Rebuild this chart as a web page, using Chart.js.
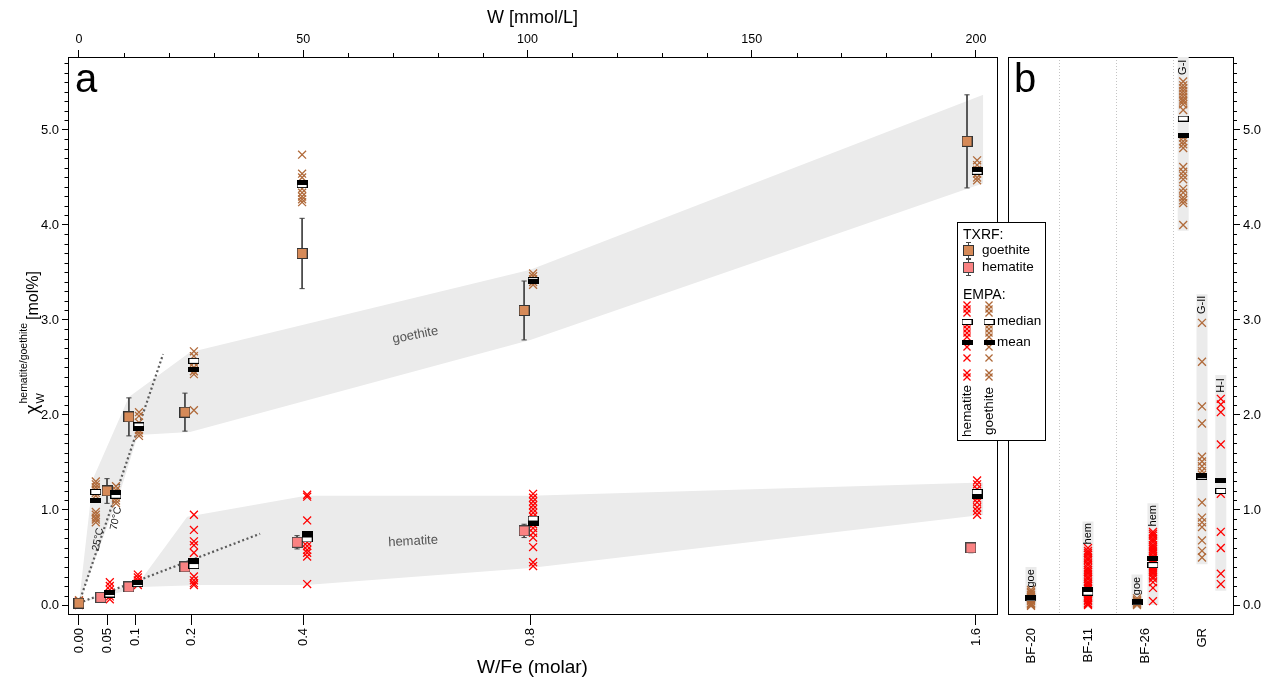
<!DOCTYPE html>
<html>
<head>
<meta charset="utf-8">
<script src="https://cdn.jsdelivr.net/npm/chart.js@4.4.1/dist/chart.umd.min.js"></script>
<style>
  html, body { margin: 0; padding: 0; background: #fff; }
  #wrap { position: relative; width: 1282px; height: 685px; }
  #wrap canvas { position: absolute; left: 0; top: 0; }
</style>
</head>
<body>
<div id="wrap">
  <canvas id="panelA" width="1282" height="685"></canvas>
  <canvas id="panelB" width="1282" height="685"></canvas>
</div>
<script>
const FONT = '"Liberation Sans", Arial, Helvetica, sans-serif';
Chart.defaults.font.family = FONT;
Chart.defaults.color = '#000';

const GOE = '#b06a3a';
const HEM = '#ff0000';
const BAND = '#ebebeb';

// ---------- axes ----------
const W_PER_WFE = 125;                       // W [mmol/L] per unit W/Fe
const wfeTickPos = [0, 0.05, 0.1, 0.2, 0.4, 0.806, 1.6];
const wfeTickLabels = ['0.00', '0.05', '0.1', '0.2', '0.4', '0.8', '1.6'];
const wTicks = [0, 50, 100, 150, 200];
const yTicks = [0, 1, 2, 3, 4, 5];
const yMinorStep = 0.1;
const wMinorStep = 10;

// ---------- panel a : TXRF (mean +- error) ----------
const txrfGoeX   = [0, 0.050, 0.089, 0.189, 0.398, 0.794, 1.584];
const txrfGoeVal = [0.02, 1.20, 1.98, 2.03, 3.70, 3.10, 4.88];
const txrfGoeErr = [0.00, 0.13, 0.20, 0.20, 0.37, 0.31, 0.49];
const txrfHemX   = [0, 0.039, 0.089, 0.189, 0.389, 0.794, 1.591];
const txrfHemVal = [0.02, 0.08, 0.19, 0.40, 0.66, 0.78, 0.60];
const txrfHemErr = [0.00, 0.02, 0.02, 0.03, 0.07, 0.07, 0.05];

// ---------- panel a : EMPA single analyses ----------
const empaGoeX = [0, 0.030, 0.066, 0.107, 0.205, 0.398, 0.810, 1.602];
const empaGoe = [
  [0.05, 0.03, 0.01],
  [1.30, 1.27, 1.24, 1.21, 1.18, 1.15, 0.98, 0.95, 0.92, 0.90, 0.87],
  [1.25, 1.21, 1.17, 1.13, 1.10, 1.07],
  [2.03, 1.99, 1.92, 1.84, 1.81, 1.78],
  [2.67, 2.62, 2.55, 2.50, 2.46, 2.43, 2.05],
  [4.74, 4.54, 4.50, 4.38, 4.34, 4.30, 4.27, 4.24],
  [3.49, 3.46, 3.43, 3.40, 3.37],
  [4.68, 4.63, 4.58, 4.54, 4.50, 4.47]
];
const empaGoeMedian = [null, 1.19, 1.15, 1.89, 2.57, 4.42, 3.42, 4.56];
const empaGoeMean   = [null, 1.10, 1.18, 1.86, 2.48, 4.45, 3.40, 4.58];

const empaHemX = [0, 0.055, 0.105, 0.205, 0.407, 0.810, 1.602];
const empaHem = [
  [0.04, 0.02, 0.00],
  [0.24, 0.20, 0.16, 0.12, 0.09, 0.06],
  [0.32, 0.29, 0.26, 0.23, 0.21],
  [0.95, 0.79, 0.67, 0.63, 0.55, 0.30, 0.26, 0.23, 0.21],
  [1.16, 1.14, 0.89, 0.66, 0.62, 0.58, 0.55, 0.51, 0.22],
  [1.17, 1.13, 1.09, 1.05, 1.01, 0.97, 0.93, 0.89, 0.85, 0.81, 0.76, 0.71, 0.61, 0.45, 0.41],
  [1.31, 1.27, 1.22, 1.17, 1.12, 1.08, 1.03, 0.99, 0.95]
];
const empaHemMedian = [null, 0.11, 0.22, 0.41, 0.69, 0.91, 1.19];
const empaHemMean   = [null, 0.13, 0.24, 0.47, 0.75, 0.86, 1.14];

// ---------- panel a : grey bands and trend lines ----------
const goeBandUpper = [[0, 0.02], [0.025, 1.33], [0.089, 2.19], [0.198, 2.66], [0.805, 3.53], [1.613, 5.37]];
const goeBandLower = [[0, 0.02], [0.075, 1.22], [0.105, 1.79], [0.198, 1.82], [0.805, 2.79], [1.613, 4.44]];
const hemBandUpper = [[0, 0.02], [0.110, 0.26], [0.193, 0.93], [0.405, 1.15], [0.805, 1.15], [1.613, 1.29]];
const hemBandLower = [[0, 0.02], [0.109, 0.19], [0.220, 0.21], [0.405, 0.21], [0.805, 0.39], [1.613, 0.95]];
const trendSteep   = [[0, 0.02], [0.150, 2.64]];
const trendShallow = [[0, 0.02], [0.323, 0.75]];

const notesA = [
  { text: '25°C', x: 0.034, y: 0.69, rot: -78, size: 10.5, color: '#222' },
  { text: '70°C', x: 0.066, y: 0.91, rot: -78, size: 10.5, color: '#222' },
  { text: 'goethite', x: 0.600, y: 2.84, rot: -11, size: 13, color: '#555' },
  { text: 'hematite', x: 0.596, y: 0.67, rot: -3, size: 13, color: '#555' }
];

// ---------- panel b ----------
const bCategories = ['BF-20', 'BF-11', 'BF-26', 'GR'];
const bColX     = [0, 1, 1.86, 2.14, 2.67, 3.0, 3.33];
const bColLabel = ['goe', 'hem', 'goe', 'hem', 'G-I', 'G-II', 'H-I'];
const bColPhase = ['goe', 'hem', 'goe', 'hem', 'goe', 'goe', 'hem'];
const bColVals = [
  [0.16, 0.14, 0.13, 0.11, 0.10, 0.08, 0.07, 0.05, 0.04, 0.02, 0.01, 0.00, -0.01],
  [0.60, 0.57, 0.55, 0.53, 0.50, 0.48, 0.47, 0.44, 0.42, 0.39, 0.37, 0.35, 0.33, 0.30, 0.28, 0.27,
   0.24, 0.22, 0.20, 0.18, 0.17, 0.15, 0.13, 0.12, 0.10, 0.08, 0.07, 0.05, 0.04, 0.02, 0.01, 0.00],
  [0.07, 0.05, 0.04, 0.03, 0.02, 0.01, 0.00],
  [0.77, 0.75, 0.73, 0.70, 0.68, 0.66, 0.63, 0.61, 0.59, 0.57, 0.55, 0.52, 0.50, 0.48, 0.46, 0.44,
   0.41, 0.39, 0.37, 0.35, 0.33, 0.30, 0.28, 0.24, 0.18, 0.04],
  [5.51, 5.47, 5.44, 5.41, 5.38, 5.35, 5.32, 5.30, 5.27, 5.21, 4.92, 4.88, 4.85, 4.81,
   4.61, 4.56, 4.52, 4.48, 4.38, 4.34, 4.29, 4.26, 4.23, 4.00],
  [2.97, 2.56, 2.09, 1.91, 1.56, 1.51, 1.46, 1.41, 1.37, 1.08, 0.92, 0.87, 0.82, 0.68, 0.57, 0.50],
  [2.17, 2.11, 2.03, 1.69, 1.17, 0.77, 0.60, 0.33, 0.22]
];
const bColMedian  = [0.07, 0.13, 0.03, 0.42, 5.12, 1.35, 1.20];
const bColMean    = [0.08, 0.16, 0.04, 0.49, 4.94, 1.36, 1.31];
const bColBarLow  = [-0.03, -0.03, -0.03, 0.00, 3.94, 0.43, 0.15];
const bColBarHigh = [0.40, 0.88, 0.32, 1.07, 5.77, 3.27, 2.42];
const bColLabelAt = [0.28, 0.75, 0.20, 0.94, 5.66, 3.16, 2.31];

// ---------- scale ranges ----------
const XA_MIN = -0.0196, XA_MAX = 1.6375;
const XB_MIN = -0.4035, XB_MAX = 3.544;
const Y_MIN = -0.0947, Y_MAX = 5.768;

// ---------- marker images ----------
function mark(w, h, fill, stroke) {
  const c = document.createElement('canvas');
  c.width = w; c.height = h;
  const g = c.getContext('2d');
  g.fillStyle = fill;
  g.fillRect(0, 0, w, h);
  if (stroke) { g.strokeStyle = stroke; g.lineWidth = 1; g.strokeRect(0.5, 0.5, w - 1, h - 1); }
  return c;
}
const goeSquare = mark(11, 11, '#d68a58', '#333');
const hemSquare = mark(11, 11, '#fa8282', '#444');
const medianMark = mark(11, 6, '#fff', '#000');
const meanMark = mark(11, 5, '#000');

// ---------- helpers ----------
const xy = arr => arr.map(([x, y]) => ({ x, y }));
const pts = (xs, cols) => xs.flatMap((x, i) => cols[i].map(y => ({ x, y })));
const singles = (xs, ys) => xs.map((x, i) => ({ x, y: ys[i] })).filter(p => p.y !== null);
const errBars = (xs, ys, es) => xs.flatMap((x, i) => es[i] > 0 ? [{ x, y: ys[i] + es[i] }, { x, y: ys[i] - es[i] }, { x, y: null }] : []);

const bandDs = (data, fill) => ({ data, fill, backgroundColor: BAND, borderColor: 'rgba(0,0,0,0)', borderWidth: 0, pointRadius: 0, order: 30 });
const trendDs = data => ({ data, borderColor: '#5b5b5b', borderWidth: 2.2, borderDash: [2, 2.6], borderCapStyle: 'butt', pointRadius: 0, order: 25 });
const crossDs = (data, color, order) => ({ data, showLine: false, pointStyle: 'crossRot', pointRadius: 5.6, pointBorderColor: color, pointBorderWidth: 1.3, order });
const imgDs = (data, img, order) => ({ data, showLine: false, pointStyle: img, pointRadius: 5, order });
const errDs = (data, order) => ({ data, borderColor: '#444', borderWidth: 1, pointStyle: 'line', pointRadius: 2.6, pointBorderColor: '#444', pointBorderWidth: 1, order });

function crossAt(ctx, cx, cy, r, color) {
  const d = r * Math.SQRT1_2;
  ctx.strokeStyle = color; ctx.lineWidth = 1.3;
  ctx.beginPath();
  ctx.moveTo(cx - d, cy - d); ctx.lineTo(cx + d, cy + d);
  ctx.moveTo(cx - d, cy + d); ctx.lineTo(cx + d, cy - d);
  ctx.stroke();
}

function drawYTitle(ctx) {
  ctx.save();
  ctx.translate(38, 414);
  ctx.rotate(-Math.PI / 2);
  ctx.fillStyle = '#000';
  ctx.textAlign = 'left';
  ctx.textBaseline = 'alphabetic';
  ctx.font = `18px ${FONT}`;
  ctx.fillText('χ', 0, 0);
  let x = ctx.measureText('χ').width + 1;
  ctx.font = `11px ${FONT}`;
  ctx.fillText('W', x, 6);
  ctx.font = `10.5px ${FONT}`;
  ctx.fillText('hematite/goethite', x, -11);
  x += ctx.measureText('hematite/goethite').width + 3;
  ctx.font = `16px ${FONT}`;
  ctx.fillText('[mol%]', x, 0);
  ctx.restore();
}

const panelAExtras = {
  id: 'panelAExtras',
  afterDraw(chart) {
    const { ctx, chartArea: a, scales: { x, x2, y } } = chart;
    ctx.save();
    ctx.strokeStyle = '#000';
    ctx.lineWidth = 1;
    ctx.beginPath();
    for (let k = 1; k * yMinorStep <= Y_MAX; k++) {
      if (k % 10 === 0) continue;
      const py = Math.round(y.getPixelForValue(k * yMinorStep)) + 0.5;
      ctx.moveTo(a.left - 3.5, py); ctx.lineTo(a.left, py);
    }
    for (let w = wMinorStep; w <= 200; w += wMinorStep) {
      if (w % 50 === 0) continue;
      const px = Math.round(x2.getPixelForValue(w)) + 0.5;
      ctx.moveTo(px, a.top - 4); ctx.lineTo(px, a.top);
    }
    ctx.stroke();

    notesA.forEach(n => {
      ctx.save();
      ctx.translate(x.getPixelForValue(n.x), y.getPixelForValue(n.y));
      ctx.rotate(n.rot * Math.PI / 180);
      ctx.font = `${n.size}px ${FONT}`;
      ctx.fillStyle = n.color;
      ctx.textAlign = 'center';
      ctx.textBaseline = 'middle';
      ctx.fillText(n.text, 0, 0);
      ctx.restore();
    });

    ctx.fillStyle = '#000';
    ctx.font = `40px ${FONT}`;
    ctx.textAlign = 'left';
    ctx.textBaseline = 'alphabetic';
    ctx.fillText('a', a.left + 7, a.top + 35);
    ctx.restore();
    drawYTitle(ctx);
  }
};

function drawLegend(ctx) {
  const L = 957, T = 222, W = 88, H = 218;
  ctx.save();
  ctx.fillStyle = '#fff';
  ctx.fillRect(L, T, W, H);
  ctx.strokeStyle = '#000';
  ctx.lineWidth = 1;
  ctx.strokeRect(L + 0.5, T + 0.5, W, H);

  ctx.fillStyle = '#000';
  ctx.font = `14px ${FONT}`;
  ctx.textAlign = 'left';
  ctx.textBaseline = 'middle';
  ctx.fillText('TXRF:', L + 6, T + 13);
  [[goeSquare, 28, 'goethite'], [hemSquare, 45, 'hematite']].forEach(([img, dy, label]) => {
    const cx = L + 11, cy = T + dy;
    ctx.strokeStyle = '#444';
    ctx.beginPath();
    ctx.moveTo(cx + 0.5, cy - 8); ctx.lineTo(cx + 0.5, cy + 8);
    ctx.moveTo(cx - 2, cy - 7.5); ctx.lineTo(cx + 3, cy - 7.5);
    ctx.moveTo(cx - 2, cy + 8.5); ctx.lineTo(cx + 3, cy + 8.5);
    ctx.stroke();
    ctx.drawImage(img, cx - 5, cy - 5);
    ctx.fillStyle = '#000';
    ctx.font = `13.5px ${FONT}`;
    ctx.fillText(label, L + 25, cy);
  });
  ctx.font = `14px ${FONT}`;
  ctx.fillText('EMPA:', L + 6, T + 73);

  const crossDy = [83, 87, 91, 103, 107, 111, 115, 125, 136, 151, 155];
  [[L + 10, HEM], [L + 32, GOE]].forEach(([cx, color]) => {
    crossDy.forEach(dy => crossAt(ctx, cx, T + dy, 5, color));
    ctx.drawImage(medianMark, cx - 5.5, T + 97);
    ctx.drawImage(meanMark, cx - 5.5, T + 118);
  });
  ctx.fillStyle = '#000';
  ctx.font = `13.5px ${FONT}`;
  ctx.fillText('median', L + 40, T + 99);
  ctx.fillText('mean', L + 40, T + 120);

  [[L + 10, 'hematite'], [L + 32, 'goethite']].forEach(([cx, label]) => {
    ctx.save();
    ctx.translate(cx, T + 189);
    ctx.rotate(-Math.PI / 2);
    ctx.textAlign = 'center';
    ctx.fillText(label, 0, 0);
    ctx.restore();
  });
  ctx.restore();
}

const panelBExtras = {
  id: 'panelBExtras',
  afterDatasetsDraw(chart) {
    const { ctx, scales: { x, y } } = chart;
    ctx.save();
    ctx.fillStyle = '#000';
    ctx.font = `11px ${FONT}`;
    ctx.textAlign = 'center';
    ctx.textBaseline = 'middle';
    bColLabel.forEach((t, i) => {
      ctx.save();
      ctx.translate(x.getPixelForValue(bColX[i]), y.getPixelForValue(bColLabelAt[i]));
      ctx.rotate(-Math.PI / 2);
      ctx.fillText(t, 0, 0);
      ctx.restore();
    });
    ctx.restore();
  },
  afterDraw(chart) {
    const { ctx, chartArea: a, scales: { y } } = chart;
    ctx.save();
    ctx.strokeStyle = '#000';
    ctx.lineWidth = 1;
    ctx.beginPath();
    for (let k = 1; k * yMinorStep <= Y_MAX; k++) {
      if (k % 10 === 0) continue;
      const py = Math.round(y.getPixelForValue(k * yMinorStep)) + 0.5;
      ctx.moveTo(a.right, py); ctx.lineTo(a.right + 4, py);
    }
    ctx.stroke();
    ctx.fillStyle = '#000';
    ctx.font = `40px ${FONT}`;
    ctx.textAlign = 'left';
    ctx.textBaseline = 'alphabetic';
    ctx.fillText('b', a.left + 6, a.top + 35);
    ctx.restore();
    drawLegend(ctx);
  }
};

const common = {
  responsive: false,
  animation: false,
  devicePixelRatio: 1,
  events: [],
  elements: { line: { tension: 0 } },
  plugins: { legend: { display: false }, tooltip: { enabled: false } }
};

const borderOnly = (position, min, max, fit) => ({
  type: 'linear', position, min, max,
  ticks: { display: false },
  grid: { drawOnChartArea: false, drawTicks: false },
  border: { color: '#000', width: 1 },
  afterFit: fit
});

// ---------- panel a ----------
new Chart(document.getElementById('panelA'), {
  type: 'line',
  data: {
    datasets: [
      bandDs(xy(goeBandUpper), '+1'),
      bandDs(xy(goeBandLower), false),
      bandDs(xy(hemBandUpper), '+1'),
      bandDs(xy(hemBandLower), false),
      trendDs(xy(trendSteep)),
      trendDs(xy(trendShallow)),
      crossDs(pts(empaHemX, empaHem), HEM, 21),
      crossDs(pts(empaGoeX, empaGoe), GOE, 20),
      errDs(errBars(txrfHemX, txrfHemVal, txrfHemErr), 16),
      errDs(errBars(txrfGoeX, txrfGoeVal, txrfGoeErr), 15),
      imgDs(singles(txrfHemX, txrfHemVal), hemSquare, 12),
      imgDs(singles(txrfGoeX, txrfGoeVal), goeSquare, 11),
      imgDs([...singles(empaGoeX, empaGoeMedian), ...singles(empaHemX, empaHemMedian)], medianMark, 6),
      imgDs([...singles(empaGoeX, empaGoeMean), ...singles(empaHemX, empaHemMean)], meanMark, 5)
    ]
  },
  options: {
    ...common,
    layout: { padding: { left: 0, right: 285, top: 0, bottom: 0 } },
    scales: {
      x: {
        type: 'linear', position: 'bottom', min: XA_MIN, max: XA_MAX,
        afterBuildTicks: s => { s.ticks = wfeTickPos.map(value => ({ value })); },
        afterFit: s => { s.height = 71; },
        ticks: { autoSkip: false, minRotation: 90, maxRotation: 90, padding: 3, font: { size: 13 },
                 callback: (v, i) => wfeTickLabels[i] },
        grid: { drawOnChartArea: false, color: '#000', tickLength: 11 },
        border: { color: '#000', width: 1 },
        title: { display: true, text: 'W/Fe (molar)', font: { size: 19 }, padding: { top: 0, bottom: 6 } }
      },
      x2: {
        type: 'linear', position: 'top', min: XA_MIN * W_PER_WFE, max: XA_MAX * W_PER_WFE,
        afterBuildTicks: s => { s.ticks = wTicks.map(value => ({ value })); },
        afterFit: s => { s.height = 57; },
        ticks: { maxRotation: 0, padding: 3, font: { size: 12.5 } },
        grid: { drawOnChartArea: false, color: '#000', tickLength: 7 },
        border: { color: '#000', width: 1 },
        title: { display: true, text: 'W [mmol/L]', font: { size: 18 }, padding: { top: 7, bottom: 0 } }
      },
      y: {
        type: 'linear', position: 'left', min: Y_MIN, max: Y_MAX,
        afterBuildTicks: s => { s.ticks = yTicks.map(value => ({ value })); },
        afterFit: s => { s.width = 68; },
        ticks: { padding: 3, font: { size: 13 }, callback: v => v.toFixed(1) },
        grid: { drawOnChartArea: false, color: '#000', tickLength: 6 },
        border: { color: '#000', width: 1 }
      },
      y2: borderOnly('right', Y_MIN, Y_MAX, s => { s.width = 0; })
    }
  },
  plugins: [panelAExtras]
});

// ---------- panel b ----------
new Chart(document.getElementById('panelB'), {
  type: 'line',
  data: {
    datasets: [
      { data: bColX.flatMap((x, i) => [{ x, y: bColBarLow[i] }, { x, y: bColBarHigh[i] }, { x, y: null }]),
        borderColor: BAND, borderWidth: 11, borderCapStyle: 'butt', pointRadius: 0, order: 30 },
      crossDs(bColX.flatMap((x, i) => bColPhase[i] === 'hem' ? bColVals[i].map(y => ({ x, y })) : []), HEM, 21),
      crossDs(bColX.flatMap((x, i) => bColPhase[i] === 'goe' ? bColVals[i].map(y => ({ x, y })) : []), GOE, 20),
      imgDs(singles(bColX, bColMedian), medianMark, 6),
      imgDs(singles(bColX, bColMean), meanMark, 5)
    ]
  },
  options: {
    ...common,
    layout: { padding: { left: 1008, right: 0, top: 57, bottom: 0 } },
    scales: {
      x: {
        type: 'linear', position: 'bottom', min: XB_MIN, max: XB_MAX,
        afterBuildTicks: s => { s.ticks = bCategories.map((c, i) => ({ value: i })); },
        afterFit: s => { s.height = 71; },
        ticks: { autoSkip: false, minRotation: 90, maxRotation: 90, padding: 14, font: { size: 13 },
                 callback: (v, i) => bCategories[i] },
        grid: { offset: true, drawTicks: false, lineWidth: 1,
                color: c => c.type === 'tick' ? '#c4c4c4' : 'rgba(0,0,0,0)' },
        border: { color: '#000', width: 1, dash: [1, 2] }
      },
      xt: borderOnly('top', XB_MIN, XB_MAX, s => { s.height = 0; }),
      yl: borderOnly('left', Y_MIN, Y_MAX, s => { s.width = 0; }),
      y: {
        type: 'linear', position: 'right', min: Y_MIN, max: Y_MAX,
        afterBuildTicks: s => { s.ticks = yTicks.map(value => ({ value })); },
        afterFit: s => { s.width = 49; },
        ticks: { padding: 3, font: { size: 13 }, callback: v => v.toFixed(1) },
        grid: { drawOnChartArea: false, color: '#000', tickLength: 7 },
        border: { color: '#000', width: 1 }
      }
    }
  },
  plugins: [panelBExtras]
});
</script>
</body>
</html>
